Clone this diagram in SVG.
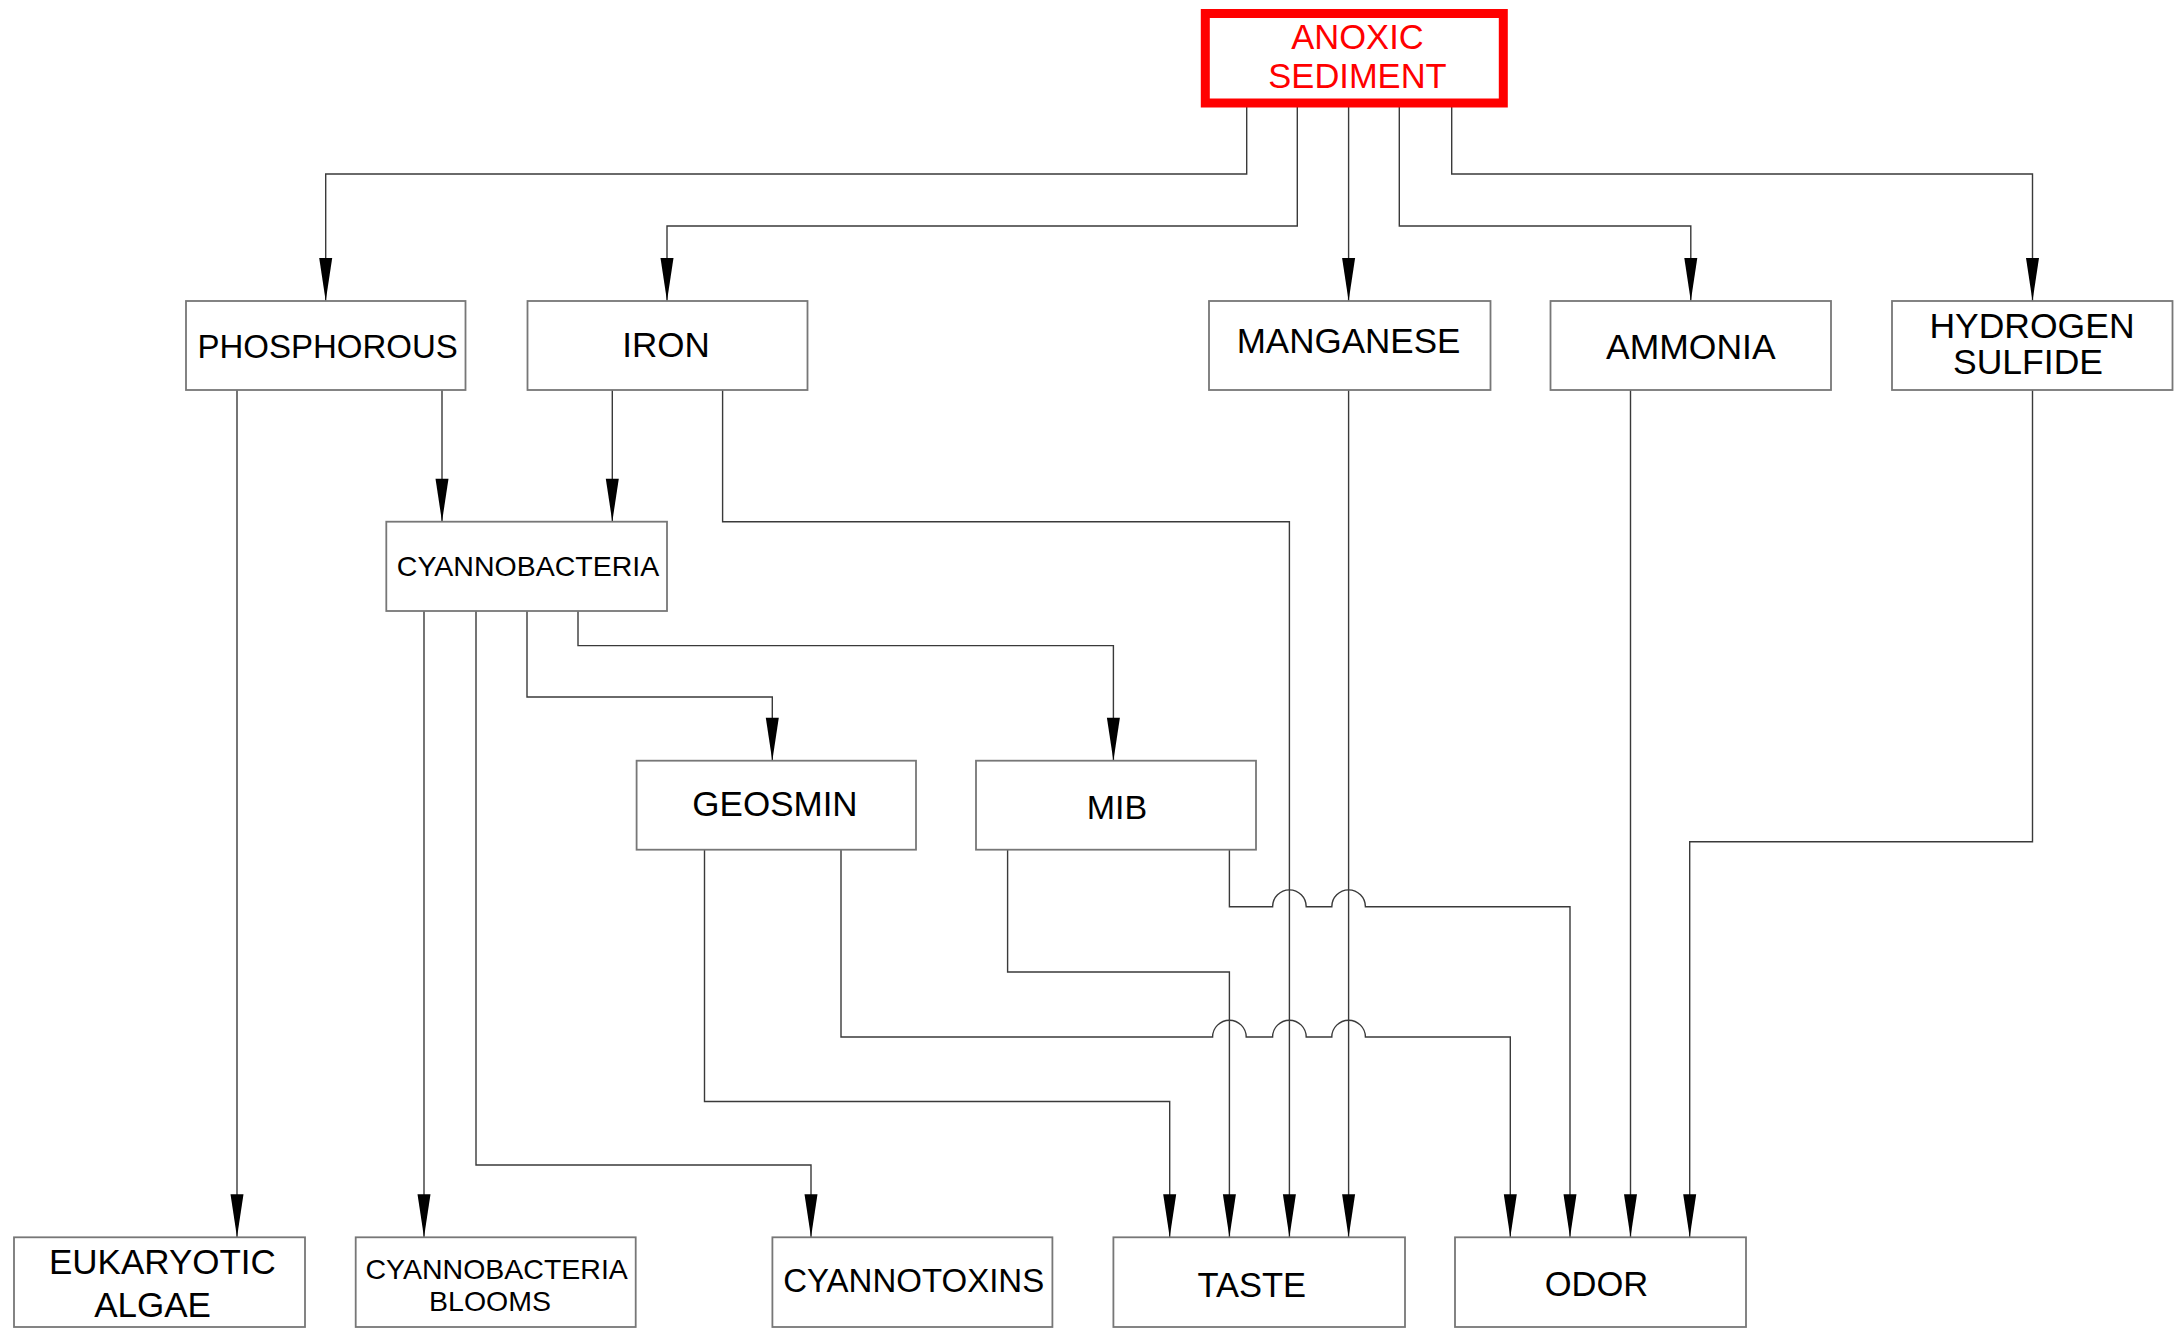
<svg xmlns="http://www.w3.org/2000/svg" width="2177" height="1333" viewBox="0 0 2177 1333">
  <style>
    .box { fill: #ffffff; stroke: #777777; stroke-width: 1.8; }
    .src { fill: #ffffff; stroke: #ff0000; stroke-width: 9; }
    .lbl { font-family: "Liberation Sans", Arial, sans-serif; font-size: 35px; fill: #000000; text-anchor: middle; }
    .red { fill: #ff0000; font-size: 34.5px; }
    .sm { font-size: 28.5px; }
    .wire { fill: none; stroke: #3a3a3a; stroke-width: 1.4; }
    .arr { marker-end: url(#head); }
  </style>
  <defs>
    <marker id="head" markerUnits="userSpaceOnUse" viewBox="-44 -8 45 16" refX="0" refY="0" markerWidth="45" markerHeight="16" orient="auto">
      <path d="M -43 -6.5 L 0 0 L -43 6.5 Z" fill="#000000"/>
    </marker>
  </defs>

  <rect width="2177" height="1333" fill="#ffffff"/>

  <!-- connectors -->
  <g id="connectors">
    <!-- from anoxic sediment -->
    <path class="wire arr" d="M 1246.7 103 V 174 H 325.7 V 301"/>
    <path class="wire arr" d="M 1297.3 103 V 226 H 667 V 301"/>
    <path class="wire arr" d="M 1348.6 103 V 301"/>
    <path class="wire arr" d="M 1399.3 103 V 226 H 1690.8 V 301"/>
    <path class="wire arr" d="M 1451.7 103 V 174 H 2032.5 V 301"/>
    <!-- phosphorous -->
    <path class="wire arr" d="M 237 390 V 1237.3"/>
    <path class="wire arr" d="M 442 390 V 521.7"/>
    <!-- iron -->
    <path class="wire arr" d="M 612.3 390 V 521.7"/>
    <path class="wire arr" d="M 722.6 390 V 521.7 H 1289.4 V 1237.3"/>
    <!-- manganese, ammonia, hydrogen sulfide -->
    <path class="wire arr" d="M 1348.6 390 V 1237.3"/>
    <path class="wire arr" d="M 1630.5 390 V 1237.3"/>
    <path class="wire arr" d="M 2032.5 390 V 841.7 H 1689.7 V 1237.3"/>
    <!-- cyannobacteria -->
    <path class="wire arr" d="M 424 611 V 1237.3"/>
    <path class="wire arr" d="M 476 611 V 1165 H 811 V 1237.3"/>
    <path class="wire arr" d="M 527 611 V 697 H 772.3 V 760.7"/>
    <path class="wire arr" d="M 578 611 V 645.6 H 1113.4 V 760.7"/>
    <!-- geosmin -->
    <path class="wire arr" d="M 704.5 849.7 V 1101.5 H 1169.7 V 1237.3"/>
    <path class="wire arr" d="M 841 849.7 V 1037 H 1212.6 A 16.8 16.8 0 0 1 1246.2 1037 H 1272.6 A 16.8 16.8 0 0 1 1306.2 1037 H 1331.8 A 16.8 16.8 0 0 1 1365.4 1037 H 1510.3 V 1237.3"/>
    <!-- mib -->
    <path class="wire arr" d="M 1007.6 849.7 V 972 H 1229.4 V 1237.3"/>
    <path class="wire arr" d="M 1229.4 849.7 V 906.7 H 1272.6 A 16.8 16.8 0 0 1 1306.2 906.7 H 1331.8 A 16.8 16.8 0 0 1 1365.4 906.7 H 1570 V 1237.3"/>
  </g>

  <!-- nodes -->
  <g id="anoxic-sediment">
    <rect class="src" x="1205.3" y="13.5" width="298" height="89.5"/>
    <text class="lbl red" x="1357.5" y="49">ANOXIC</text>
    <text class="lbl red" x="1357.5" y="88">SEDIMENT</text>
  </g>
  <g id="phosphorous">
    <rect class="box" x="186" y="301" width="279.5" height="89"/>
    <text class="lbl" x="327.7" y="357.7" style="font-size:33px">PHOSPHOROUS</text>
  </g>
  <g id="iron">
    <rect class="box" x="527.5" y="301" width="280" height="89"/>
    <text class="lbl" x="666" y="357">IRON</text>
  </g>
  <g id="manganese">
    <rect class="box" x="1209" y="301" width="281.5" height="89"/>
    <text class="lbl" x="1348.5" y="352.7">MANGANESE</text>
  </g>
  <g id="ammonia">
    <rect class="box" x="1550.5" y="301" width="280.5" height="89"/>
    <text class="lbl" x="1690.8" y="359" style="font-size:35.5px">AMMONIA</text>
  </g>
  <g id="hydrogen-sulfide">
    <rect class="box" x="1892" y="301" width="280.5" height="89"/>
    <text class="lbl" x="2032" y="338.3" style="font-size:35.5px">HYDROGEN</text>
    <text class="lbl" x="2028" y="374.3" style="font-size:35.5px">SULFIDE</text>
  </g>
  <g id="cyannobacteria">
    <rect class="box" x="386.3" y="521.7" width="280.7" height="89.3"/>
    <text class="lbl sm" x="528" y="576">CYANNOBACTERIA</text>
  </g>
  <g id="geosmin">
    <rect class="box" x="636.6" y="760.7" width="279.4" height="89"/>
    <text class="lbl" x="775" y="816.3">GEOSMIN</text>
  </g>
  <g id="mib">
    <rect class="box" x="976" y="760.7" width="280" height="89"/>
    <text class="lbl" x="1117" y="819" style="font-size:34px">MIB</text>
  </g>
  <g id="eukaryotic-algae">
    <rect class="box" x="14" y="1237.3" width="291" height="89.7"/>
    <text class="lbl" x="162.4" y="1274">EUKARYOTIC</text>
    <text class="lbl" x="152.6" y="1317.3">ALGAE</text>
  </g>
  <g id="cyannobacteria-blooms">
    <rect class="box" x="355.7" y="1237.3" width="280" height="89.7"/>
    <text class="lbl sm" x="496.7" y="1278.7">CYANNOBACTERIA</text>
    <text class="lbl sm" x="490" y="1311">BLOOMS</text>
  </g>
  <g id="cyannotoxins">
    <rect class="box" x="772.4" y="1237.3" width="280" height="89.7"/>
    <text class="lbl" x="913.7" y="1292.3" style="font-size:33px">CYANNOTOXINS</text>
  </g>
  <g id="taste">
    <rect class="box" x="1113.4" y="1237.3" width="291.6" height="89.7"/>
    <text class="lbl" x="1251.8" y="1296.7" style="font-size:34.5px">TASTE</text>
  </g>
  <g id="odor">
    <rect class="box" x="1455" y="1237.3" width="291" height="89.7"/>
    <text class="lbl" x="1596.4" y="1296.3" style="font-size:34.5px">ODOR</text>
  </g>
</svg>
